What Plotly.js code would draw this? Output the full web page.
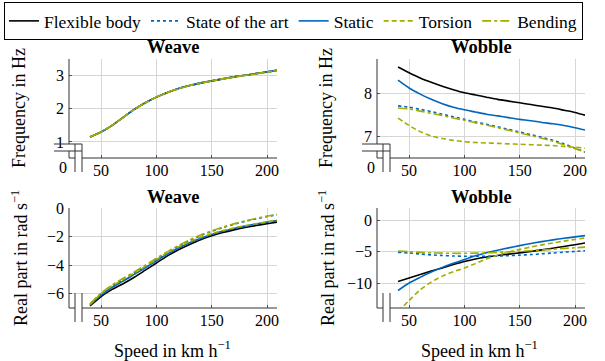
<!DOCTYPE html>
<html>
<head>
<meta charset="utf-8">
<script src="https://cdn.plot.ly/plotly-3.0.1.min.js"></script>
<style>html,body{margin:0;padding:0;background:#fff;}#chart{width:605px;height:361px;}</style>
</head>
<body>
<div id="chart"></div>
<script>
// ---------- data ----------
const speed = [40, 50, 60, 70, 80, 90, 100, 110, 120, 130, 140, 150, 160, 170, 180, 190, 200, 210];
const seriesNames = ["Flexible body", "State of the art", "Static", "Torsion", "Bending"];
const panelTitles = ["Weave", "Wobble", "Weave", "Wobble"];

// Weave frequency (Hz)
const weaveFreqFlex    = [1.15, 1.30, 1.50, 1.74, 1.98, 2.18, 2.35, 2.49, 2.61, 2.70, 2.77, 2.84, 2.90, 2.96, 3.01, 3.06, 3.11, 3.16];
const weaveFreqSota    = [1.15, 1.30, 1.50, 1.74, 1.98, 2.18, 2.35, 2.49, 2.61, 2.70, 2.78, 2.84, 2.90, 2.96, 3.01, 3.06, 3.11, 3.17];
const weaveFreqStatic  = [1.15, 1.30, 1.50, 1.74, 1.98, 2.18, 2.35, 2.49, 2.61, 2.70, 2.78, 2.84, 2.90, 2.96, 3.01, 3.06, 3.11, 3.17];
const weaveFreqTorsion = [1.15, 1.30, 1.50, 1.74, 1.98, 2.18, 2.35, 2.49, 2.60, 2.70, 2.77, 2.84, 2.90, 2.95, 3.00, 3.05, 3.10, 3.15];
const weaveFreqBending = [1.15, 1.30, 1.50, 1.74, 1.98, 2.18, 2.35, 2.49, 2.61, 2.70, 2.77, 2.84, 2.90, 2.96, 3.01, 3.06, 3.11, 3.16];

// Wobble frequency (Hz)
const wobbleFreqFlex    = [8.60, 8.47, 8.35, 8.25, 8.16, 8.08, 8.01, 7.96, 7.91, 7.86, 7.82, 7.78, 7.74, 7.70, 7.66, 7.61, 7.56, 7.49];
const wobbleFreqSota    = [7.71, 7.68, 7.63, 7.58, 7.52, 7.46, 7.40, 7.34, 7.29, 7.23, 7.17, 7.11, 7.05, 6.99, 6.92, 6.84, 6.74, 6.64];
const wobbleFreqStatic  = [8.30, 8.12, 7.98, 7.86, 7.76, 7.68, 7.62, 7.57, 7.52, 7.48, 7.44, 7.40, 7.37, 7.33, 7.30, 7.26, 7.21, 7.15];
const wobbleFreqTorsion = [7.43, 7.26, 7.12, 7.02, 6.96, 6.92, 6.89, 6.87, 6.86, 6.85, 6.84, 6.83, 6.82, 6.81, 6.80, 6.78, 6.76, 6.74];
const wobbleFreqBending = [7.66, 7.64, 7.59, 7.54, 7.49, 7.43, 7.38, 7.32, 7.27, 7.21, 7.15, 7.09, 7.03, 6.97, 6.90, 6.82, 6.73, 6.65];

// Weave real part (rad/s)
const weaveRealFlex    = [-6.85, -6.20, -5.70, -5.30, -4.85, -4.35, -3.85, -3.35, -2.92, -2.55, -2.22, -1.95, -1.72, -1.53, -1.37, -1.23, -1.10, -0.98];
const weaveRealSota    = [-6.75, -6.00, -5.45, -5.00, -4.55, -4.07, -3.58, -3.10, -2.66, -2.27, -1.93, -1.63, -1.37, -1.14, -0.94, -0.76, -0.60, -0.46];
const weaveRealStatic  = [-6.80, -6.10, -5.55, -5.12, -4.65, -4.18, -3.70, -3.22, -2.80, -2.43, -2.11, -1.85, -1.62, -1.43, -1.27, -1.12, -0.99, -0.87];
const weaveRealTorsion = [-6.75, -6.00, -5.45, -5.00, -4.55, -4.08, -3.60, -3.13, -2.72, -2.36, -2.05, -1.80, -1.58, -1.40, -1.24, -1.10, -0.97, -0.85];
const weaveRealBending = [-6.72, -5.95, -5.38, -4.92, -4.47, -4.00, -3.52, -3.05, -2.62, -2.23, -1.89, -1.60, -1.34, -1.11, -0.91, -0.73, -0.57, -0.43];

// Wobble real part (rad/s)
const wobbleRealFlex    = [-9.75, -9.20, -8.65, -8.10, -7.60, -7.05, -6.55, -6.15, -5.85, -5.60, -5.38, -5.18, -4.95, -4.70, -4.43, -4.15, -3.87, -3.58];
const wobbleRealSota    = [-5.10, -5.20, -5.35, -5.50, -5.60, -5.68, -5.72, -5.73, -5.72, -5.68, -5.62, -5.55, -5.45, -5.33, -5.20, -5.07, -4.95, -4.82];
const wobbleRealStatic  = [-11.20, -10.00, -9.10, -8.25, -7.50, -6.85, -6.25, -5.65, -5.15, -4.75, -4.38, -4.02, -3.68, -3.38, -3.10, -2.85, -2.62, -2.40];
const wobbleRealTorsion = [-14.60, -12.80, -11.10, -9.85, -8.90, -8.20, -7.60, -6.90, -6.15, -5.55, -5.05, -4.62, -4.25, -3.90, -3.60, -3.30, -3.02, -2.78];
const wobbleRealBending = [-4.90, -5.00, -5.10, -5.17, -5.22, -5.25, -5.25, -5.22, -5.17, -5.10, -5.02, -4.93, -4.83, -4.72, -4.60, -4.48, -4.36, -4.25];

// ---------- style ----------
const FONT = "Liberation Serif, Times New Roman, serif";
const FS_TICK = 16, FS_TITLE = 18, FS_HEAD = 18.5, FS_LEG = 17.5;
const BLUE = "#0065BD", GREEN = "#A2AD00";
const lineStyles = [
  {color: "#000000", width: 1.6, dash: "solid"},
  {color: BLUE, width: 1.6, dash: "dot"},
  {color: BLUE, width: 1.6, dash: "solid"},
  {color: GREEN, width: 1.6, dash: "5px,3px"},
  {color: GREEN, width: 1.6, dash: "dashdot"}
];

const panels = [
  {series: [weaveFreqFlex, weaveFreqSota, weaveFreqStatic, weaveFreqTorsion, weaveFreqBending], xa: "x", ya: "y"},
  {series: [wobbleFreqFlex, wobbleFreqSota, wobbleFreqStatic, wobbleFreqTorsion, wobbleFreqBending], xa: "x2", ya: "y2"},
  {series: [weaveRealFlex, weaveRealSota, weaveRealStatic, weaveRealTorsion, weaveRealBending], xa: "x3", ya: "y3"},
  {series: [wobbleRealFlex, wobbleRealSota, wobbleRealStatic, wobbleRealTorsion, wobbleRealBending], xa: "x4", ya: "y4"}
];

const traces = [];
panels.forEach((p, pi) => {
  p.series.forEach((vals, si) => {
    traces.push({
      type: "scatter", mode: "lines",
      x: speed, y: vals,
      xaxis: p.xa, yaxis: p.ya,
      name: seriesNames[si], legendgroup: seriesNames[si],
      showlegend: pi === 0,
      line: Object.assign({shape: "spline", smoothing: 0.6}, lineStyles[si]),
      hoverinfo: "skip"
    });
  });
});

// pixel helpers (figure is 605 x 361, zero margins)
const W = 605, H = 361;
const px = v => v / W;
const py = v => 1 - v / H;

const colX = [69, 377];     // axis left pixel
const PW = 208;             // plot width
const rowY = [[59, 158], [208, 308]];

function xax(col) {
  return {
    domain: [px(colX[col]), px(colX[col] + PW)],
    range: [21, 209],
    tickvals: [50, 100, 150, 200],
    showgrid: true, gridcolor: "#d6d6d6", gridwidth: 1,
    zeroline: false, showline: false,
    ticks: "inside", ticklen: 3, tickcolor: "#555",
    ticklabelstandoff: 1,
    tickfont: {family: FONT, size: FS_TICK, color: "#000"},
    fixedrange: true
  };
}
function yax(row, range, tickvals, ticktext) {
  const a = {
    domain: [py(rowY[row][1]), py(rowY[row][0])],
    range: range,
    tickvals: tickvals,
    showgrid: true, gridcolor: "#d6d6d6", gridwidth: 1,
    zeroline: false, showline: false,
    ticks: "inside", ticklen: 3, tickcolor: "#555",
    ticklabelstandoff: 4,
    tickfont: {family: FONT, size: FS_TICK, color: "#000"},
    fixedrange: true
  };
  if (ticktext) a.ticktext = ticktext;
  return a;
}

const shapes = [];
function seg(x0, y0, x1, y1, color) {
  shapes.push({type: "line", xref: "paper", yref: "paper",
    x0: px(x0), y0: py(y0), x1: px(x1), y1: py(y1),
    line: {color: color || "#333", width: 1}});
}
for (let c = 0; c < 2; c++) {
  const ox = colX[c];
  // top row with y and x discontinuities
  let T = rowY[0][0], B = rowY[0][1];
  seg(ox, T, ox, 144);
  seg(ox, 151, ox, B);
  seg(ox, B, ox + 6, B);
  seg(ox + 13, B, ox + PW, B);
  seg(ox - 15, 144, ox + 13, 144);
  seg(ox - 15, 151, ox + 13, 151);
  seg(ox + 6, 144, ox + 6, 172);
  seg(ox + 13, 144, ox + 13, 172);
  // bottom row with x discontinuity
  T = rowY[1][0]; B = rowY[1][1];
  seg(ox, T, ox, B);
  seg(ox, B, ox + 6, B);
  seg(ox + 13, B, ox + PW, B);
  seg(ox + 6, 293, ox + 6, 322);
  seg(ox + 13, 293, ox + 13, 322);
}

const annotations = [];
function txt(text, x, y, size, opts) {
  annotations.push(Object.assign({
    text: text, xref: "paper", yref: "paper", x: px(x), y: py(y),
    showarrow: false, xanchor: "center", yanchor: "middle",
    font: {family: FONT, size: size, color: "#000"}
  }, opts || {}));
}
// panel titles
txt("<b>" + panelTitles[0] + "</b>", 173, 47, FS_HEAD);
txt("<b>" + panelTitles[1] + "</b>", 481, 47, FS_HEAD);
txt("<b>" + panelTitles[2] + "</b>", 173, 197, FS_HEAD);
txt("<b>" + panelTitles[3] + "</b>", 481, 197, FS_HEAD);
// axis titles
txt("Frequency in Hz", 19, 108, FS_TITLE, {textangle: -90});
txt("Frequency in Hz", 326, 108, FS_TITLE, {textangle: -90});
txt("Real part in rad s<sup>−1</sup>", 19, 258, FS_TITLE, {textangle: -90});
txt("Real part in rad s<sup>−1</sup>", 326, 258, FS_TITLE, {textangle: -90});
txt("Speed in km h<sup>−1</sup>", 172, 349, FS_TITLE);
txt("Speed in km h<sup>−1</sup>", 479, 349, FS_TITLE);
// zero labels at the broken axes
txt("0", 63, 167, FS_TICK);
txt("0", 371, 167, FS_TICK);

const layout = {
  width: W, height: H,
  margin: {l: 0, r: 0, t: 0, b: 0},
  paper_bgcolor: "#fff", plot_bgcolor: "#fff",
  showlegend: true,
  legend: {
    orientation: "h", x: px(4), y: py(2), xanchor: "left", yanchor: "top",
    bordercolor: "#000", borderwidth: 1, bgcolor: "#fff",
    font: {family: FONT, size: FS_LEG, color: "#000"},
    itemwidth: 30, tracegroupgap: 0
  },
  xaxis: Object.assign(xax(0), {anchor: "y"}),
  yaxis: Object.assign(yax(0, [0.515, 3.5], [1, 2, 3]), {anchor: "x"}),
  xaxis2: Object.assign(xax(1), {anchor: "y2"}),
  yaxis2: Object.assign(yax(0, [6.515, 8.785], [7, 8]), {anchor: "x2"}),
  xaxis3: Object.assign(xax(0), {anchor: "y3"}),
  yaxis3: Object.assign(yax(1, [-7, 0], [-6, -4, -2, 0], ["−6", "−4", "−2", "0"]), {anchor: "x3"}),
  xaxis4: Object.assign(xax(1), {anchor: "y4"}),
  yaxis4: Object.assign(yax(1, [-14, 2], [-10, -5, 0], ["−10", "−5", "0"]), {anchor: "x4"}),
  shapes: shapes,
  annotations: annotations
};

Plotly.newPlot("chart", traces, layout, {staticPlot: true, displayModeBar: false});
</script>
</body>
</html>
